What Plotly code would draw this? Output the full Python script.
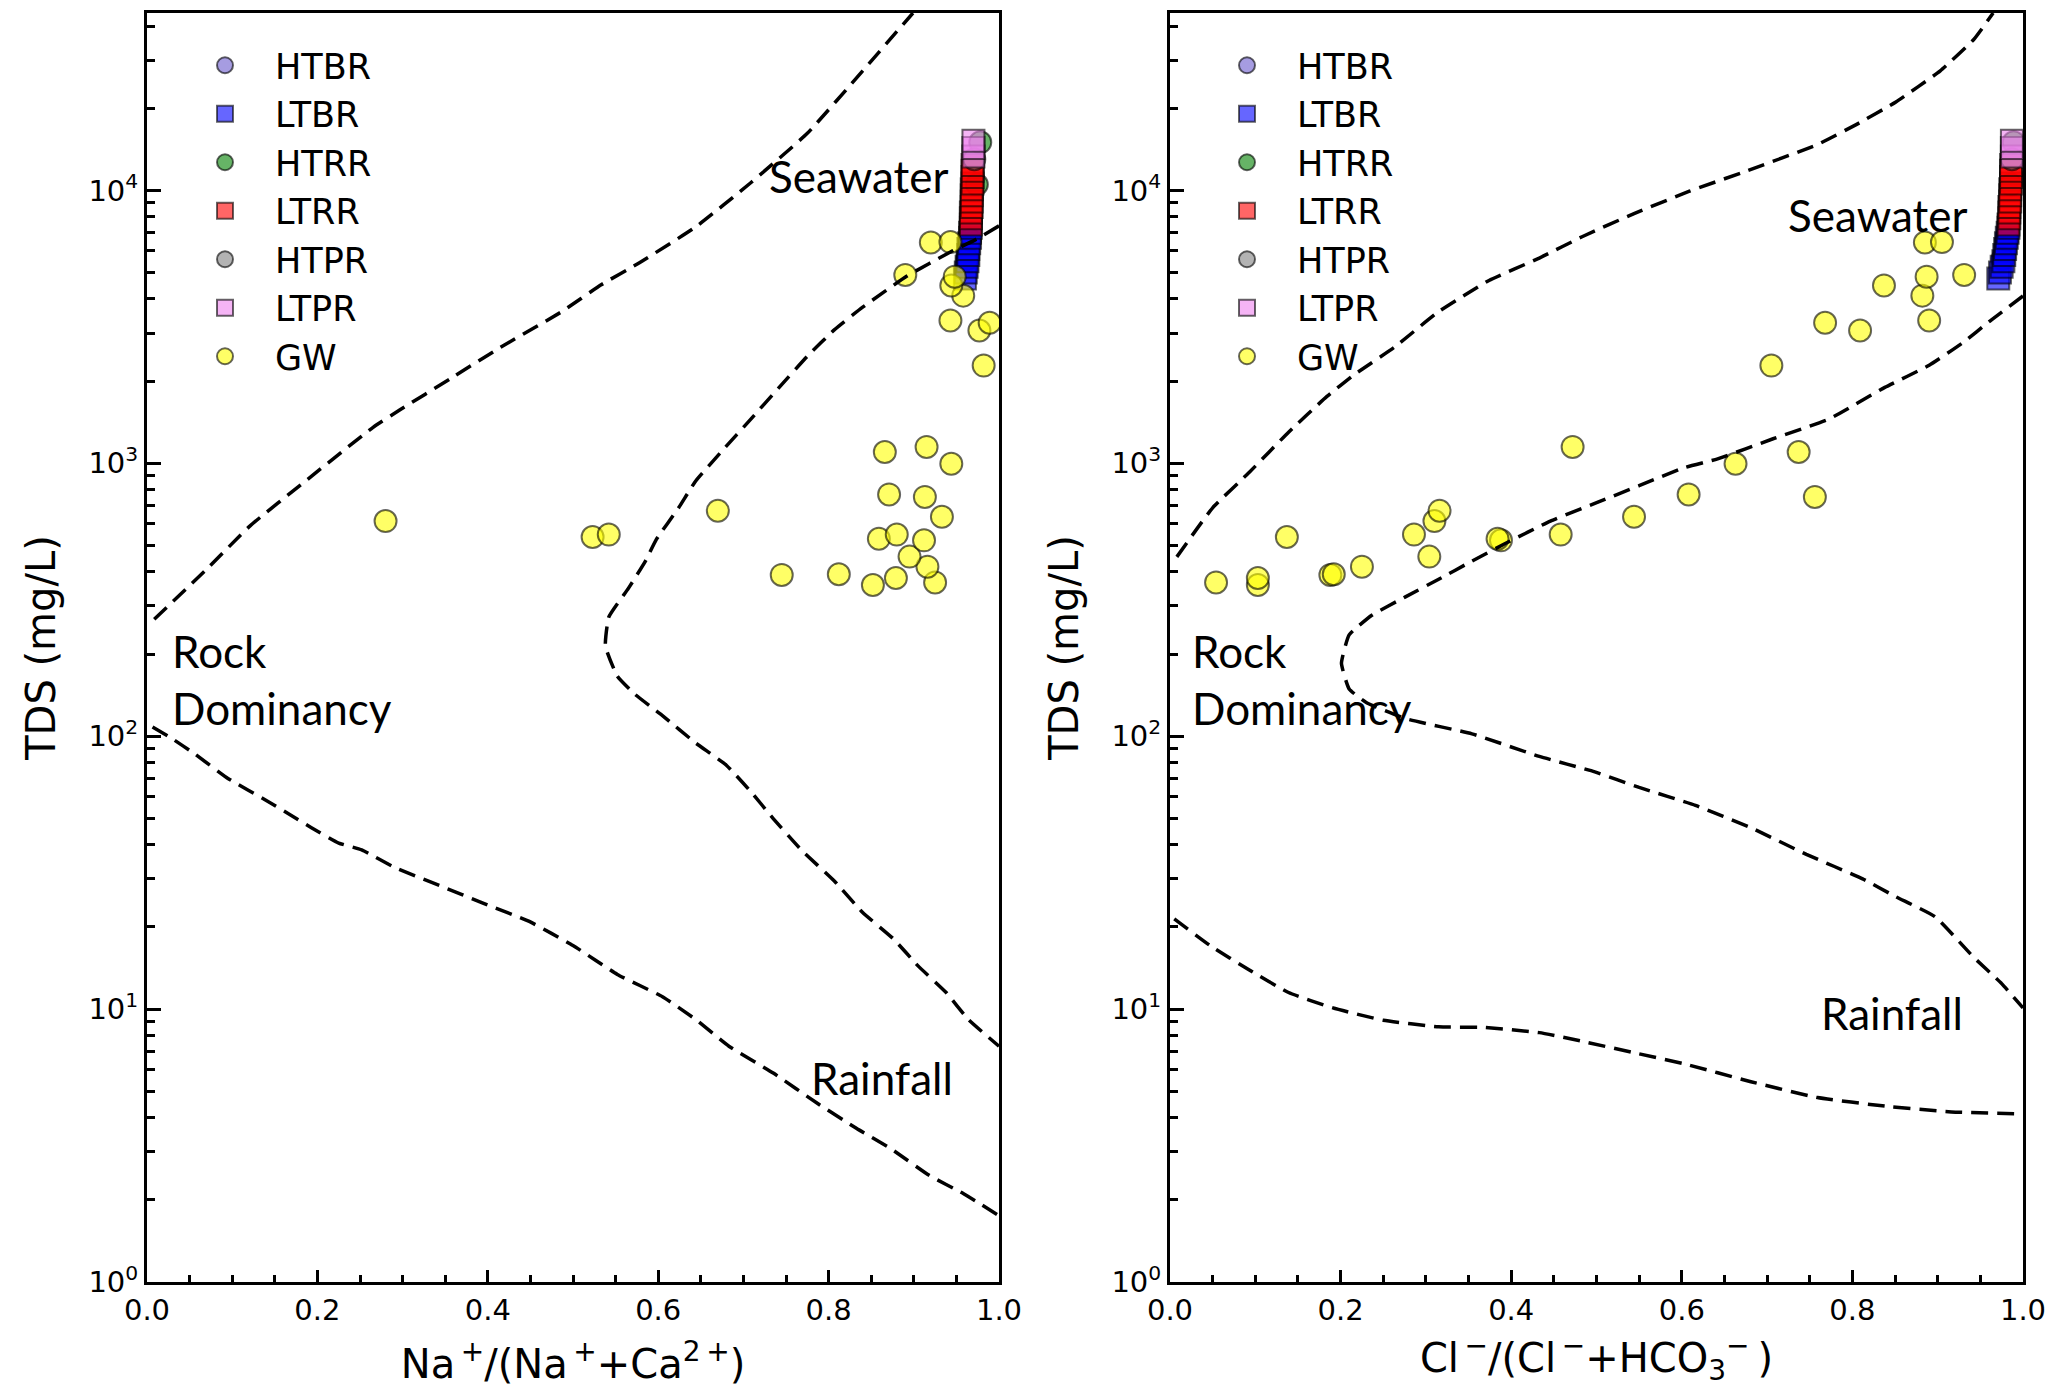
import plotly.graph_objects as go

# ---------------- groundwater samples ----------------
gw_tds = [358, 366, 380, 390, 392, 418, 455, 522, 529, 537,
          548, 548, 614, 637, 670, 753, 769, 996, 1100, 1148,
          2280, 3065, 3272, 3337, 4115, 4485, 4830, 4900, 6440, 6465]
gw_na = [0.852, 0.925, 0.879, 0.745, 0.812, 0.916, 0.895, 0.912, 0.859, 0.523,
         0.542, 0.880, 0.280, 0.933, 0.670, 0.913, 0.871, 0.944, 0.866, 0.915,
         0.982, 0.977, 0.989, 0.943, 0.958, 0.944, 0.948, 0.890, 0.920, 0.943]
gw_cl = [0.103, 0.054, 0.103, 0.188, 0.192, 0.225, 0.304, 0.388, 0.384, 0.137,
         0.286, 0.458, 0.310, 0.544, 0.316, 0.756, 0.608, 0.663, 0.737, 0.472,
         0.705, 0.809, 0.768, 0.890, 0.882, 0.837, 0.887, 0.931, 0.885, 0.905]

# ---------------- river samples ----------------
htbr_tds = [5600, 6600]
htbr_na = [0.963, 0.966]
htbr_cl = [0.976, 0.981]

ltbr_tds = [4750, 5000, 5250, 5500, 5800, 6100, 6400, 6700, 7000, 7300]
ltbr_na = [0.960, 0.961, 0.962, 0.963, 0.964, 0.964, 0.965, 0.966, 0.966, 0.967]
ltbr_cl = [0.971, 0.973, 0.975, 0.977, 0.978, 0.979, 0.980, 0.981, 0.982, 0.983]

htrr_tds = [10500, 15000]
htrr_na = [0.974, 0.978]
htrr_cl = [0.986, 0.989]

ltrr_tds = [7500, 7900, 8300, 8700, 9100, 9600, 10100, 10600, 11200, 11800, 12400]
ltrr_na = [0.967, 0.967, 0.967, 0.968, 0.968, 0.968, 0.968, 0.969, 0.969, 0.969, 0.969]
ltrr_cl = [0.983, 0.984, 0.984, 0.984, 0.985, 0.985, 0.985, 0.986, 0.986, 0.986, 0.986]

htpr_tds = [13000]
htpr_na = [0.971]
htpr_cl = [0.987]

ltpr_tds = [13300, 14300, 15200]
ltpr_na = [0.970, 0.970, 0.970]
ltpr_cl = [0.987, 0.987, 0.987]

# ---------------- Gibbs boundary envelopes ----------------
na_outer_x = [0.0085, 0.069, 0.121, 0.186, 0.265, 0.297, 0.356, 0.415, 0.487, 0.533,
              0.578, 0.644, 0.709, 0.775, 0.840, 0.899]
na_outer_tds = [268, 406, 590, 861, 1352, 1570, 2042, 2661, 3597, 4508,
                5433, 7345, 10690, 16180, 27420, 44670]

na_inner_x = [1.0, 0.971, 0.944, 0.892, 0.840, 0.807, 0.775, 0.742, 0.709, 0.676,
              0.644, 0.624, 0.598, 0.585, 0.565, 0.542, 0.538, 0.552, 0.572, 0.605,
              0.644, 0.680, 0.709, 0.735, 0.768, 0.807, 0.840, 0.876, 0.905, 0.938,
              0.964, 1.0]
na_inner_tds = [7413, 6561, 5970, 4853, 3733, 3090, 2466, 1897, 1455, 1119,
                861, 687, 527, 438, 348, 273, 214, 166, 143, 119,
                94.4, 78.3, 62.5, 49.9, 38.3, 29.4, 22.6, 18.1, 14.4, 11.5,
                9.16, 7.31]

na_lower_x = [0.0065, 0.029, 0.056, 0.095, 0.141, 0.167, 0.193, 0.225, 0.252, 0.291,
              0.343, 0.395, 0.448, 0.500, 0.552, 0.605, 0.644, 0.683, 0.735, 0.788,
              0.833, 0.873, 0.918, 0.958, 1.0]
na_lower_tds = [108, 98.2, 86.1, 70.0, 57.9, 51.8, 46.2, 40.6, 38.3, 33.0,
                28.4, 24.4, 21.0, 17.1, 13.4, 11.1, 9.16, 7.31, 5.83, 4.49,
                3.65, 3.08, 2.46, 2.11, 1.75]

cl_outer_x = [0.008, 0.050, 0.093, 0.139, 0.184, 0.217, 0.263, 0.315, 0.374, 0.433,
              0.485, 0.544, 0.609, 0.675, 0.759, 0.805, 0.851, 0.903, 0.942, 0.965]
cl_outer_tds = [454, 687, 927, 1300, 1758, 2123, 2661, 3597, 4677, 5649,
                6808, 8222, 9931, 11750, 14720, 17460, 21090, 27420, 35650, 44670]

cl_inner_x = [1.0, 0.962, 0.929, 0.890, 0.838, 0.773, 0.707, 0.642, 0.603, 0.550,
              0.498, 0.446, 0.393, 0.354, 0.315, 0.276, 0.237, 0.210, 0.201, 0.210,
              0.230, 0.276, 0.354, 0.433, 0.498, 0.550, 0.616, 0.681, 0.746, 0.812,
              0.851, 0.897, 0.942, 0.975, 1.0]
cl_inner_tds = [4102, 3334, 2761, 2286, 1897, 1455, 1230, 1038, 964, 828,
                713, 614, 508, 438, 376, 324, 278, 235, 185, 149,
                133, 116, 102, 84.3, 74.0, 64.9, 55.8, 46.2, 36.9, 30.0,
                25.8, 21.8, 15.5, 12.4, 10.1]

cl_lower_x = [0.005, 0.047, 0.093, 0.139, 0.191, 0.250, 0.315, 0.367, 0.433, 0.485,
              0.544, 0.603, 0.681, 0.759, 0.838, 0.916, 1.0]
cl_lower_tds = [21.4, 17.1, 13.9, 11.5, 10.1, 9.10, 8.61, 8.57, 8.20, 7.60,
                6.92, 6.30, 5.42, 4.74, 4.41, 4.20, 4.13]

y_major = [1, 10, 100, 1000, 10000]
y_major_text = ["10<sup>0</sup>", "10<sup>1</sup>", "10<sup>2</sup>",
                "10<sup>3</sup>", "10<sup>4</sup>"]
y_minor = [m * d for d in (1, 10, 100, 1000, 10000) for m in range(2, 10)]

# name, symbol, fill colour, Na ratio, Cl ratio, TDS
groups = [
    ("HTBR", "circle", "rgba(106,90,205,0.6)", htbr_na, htbr_cl, htbr_tds),
    ("LTBR", "square", "rgba(0,0,255,0.6)", ltbr_na, ltbr_cl, ltbr_tds),
    ("HTRR", "circle", "rgba(0,128,0,0.6)", htrr_na, htrr_cl, htrr_tds),
    ("LTRR", "square", "rgba(255,0,0,0.6)", ltrr_na, ltrr_cl, ltrr_tds),
    ("HTPR", "circle", "rgba(128,128,128,0.6)", htpr_na, htpr_cl, htpr_tds),
    ("LTPR", "square", "rgba(238,130,238,0.6)", ltpr_na, ltpr_cl, ltpr_tds),
    ("GW", "circle", "rgba(255,255,0,0.6)", gw_na, gw_cl, gw_tds),
]

EDGE = "rgba(0,0,0,0.6)"
FONT = "DejaVu Sans"
HAND = "Comic Sans MS, Lato, sans-serif"

fig = go.Figure()

for panel, (xa, ya, leg) in enumerate([("x", "y", "legend"), ("x2", "y2", "legend2")]):
    for name, sym, col, na, cl, tds in groups:
        fig.add_trace(go.Scatter(
            x=na if panel == 0 else cl, y=tds, mode="markers", name=name,
            xaxis=xa, yaxis=ya, legend=leg,
            marker=dict(symbol=sym, size=22, color=col, line=dict(color=EDGE, width=2)),
        ))

# boundary lines sit above the markers
boundaries = [
    ("x", "y", na_outer_x, na_outer_tds), ("x", "y", na_inner_x, na_inner_tds),
    ("x", "y", na_lower_x, na_lower_tds),
    ("x2", "y2", cl_outer_x, cl_outer_tds), ("x2", "y2", cl_inner_x, cl_inner_tds),
    ("x2", "y2", cl_lower_x, cl_lower_tds),
]
for xa, ya, bx, by in boundaries:
    fig.add_trace(go.Scatter(
        x=bx, y=by, mode="lines", xaxis=xa, yaxis=ya, showlegend=False,
        line=dict(color="black", width=3.5, dash="17px,9px", shape="spline", smoothing=0.4),
        hoverinfo="skip",
    ))

W, H = 2056, 1387
xdom1 = [147 / W, 999 / W]
xdom2 = [1170 / W, 2023 / W]
ydom = [1 - 1282 / H, 1 - 13 / H]

def xaxis_style(domain, title, anchor):
    return dict(
        domain=domain, anchor=anchor, range=[0, 1], automargin=False,
        tickmode="array", tickvals=[0, 0.2, 0.4, 0.6, 0.8, 1.0],
        ticktext=["0.0", "0.2", "0.4", "0.6", "0.8", "1.0"],
        ticks="inside", ticklen=12, tickwidth=3, tickcolor="black",
        minor=dict(tickmode="array", tickvals=[i / 20 for i in range(1, 20) if i % 4],
                   ticks="inside", ticklen=7, tickwidth=2.5, tickcolor="black"),
        showline=True, linewidth=3, linecolor="black", mirror=True,
        showgrid=False, zeroline=False,
        tickfont=dict(family=FONT, size=29, color="black"),
        title=dict(text=title, font=dict(family=FONT, size=40, color="black"), standoff=26),
    )

def yaxis_style(anchor):
    return dict(
        domain=ydom, anchor=anchor, type="log", range=[0, 4.65], automargin=False,
        tickmode="array", tickvals=y_major, ticktext=y_major_text,
        ticks="inside", ticklen=14, tickwidth=3, tickcolor="black",
        minor=dict(tickmode="array", tickvals=y_minor,
                   ticks="inside", ticklen=8, tickwidth=2.5, tickcolor="black"),
        showline=True, linewidth=3, linecolor="black", mirror=True,
        showgrid=False, zeroline=False,
        tickfont=dict(family=FONT, size=29, color="black"),
        title=dict(text="TDS (mg/L)", font=dict(family=FONT, size=40, color="black"), standoff=21),
    )

legend_common = dict(
    font=dict(family=FONT, size=35, color="black"), bgcolor="rgba(0,0,0,0)",
    xanchor="left", yanchor="top", tracegroupgap=0, itemsizing="trace", itemwidth=90,
)

fig.update_layout(
    width=W, height=H,
    margin=dict(l=0, r=0, t=0, b=0),
    paper_bgcolor="white", plot_bgcolor="white",
    xaxis=xaxis_style(xdom1, "Na<sup>\u2009+</sup>/(Na<sup>\u2009+</sup>+Ca<sup>2\u2009+</sup>)", "y"),
    yaxis=yaxis_style("x"),
    xaxis2=xaxis_style(xdom2, "Cl<sup>\u2009\u2212</sup>/(Cl<sup>\u2009\u2212</sup>+HCO<sub>3</sub><sup>\u2212</sup>\u2009)", "y2"),
    yaxis2=yaxis_style("x2"),
    legend=dict(x=175 / W, y=1 - 36 / H, **legend_common),
    legend2=dict(x=1197 / W, y=1 - 36 / H, **legend_common),
    showlegend=True,
)

# region labels
labels = [
    ("x", "y", 0.728, 4.051, "Seawater"),
    ("x", "y", 0.027, 2.207, "Rock<br>Dominancy"),
    ("x", "y", 0.777, 0.748, "Rainfall"),
    ("x2", "y2", 0.722, 3.908, "Seawater"),
    ("x2", "y2", 0.023, 2.207, "Rock<br>Dominancy"),
    ("x2", "y2", 0.761, 0.986, "Rainfall"),
]
for xa, ya, lx, ly, txt in labels:
    fig.add_annotation(
        x=lx, y=ly, xref=xa, yref=ya, text=txt, showarrow=False,
        xanchor="left", yanchor="middle", align="left",
        font=dict(family=HAND, size=44, color="black"),
    )

fig.write_html("out.html")
